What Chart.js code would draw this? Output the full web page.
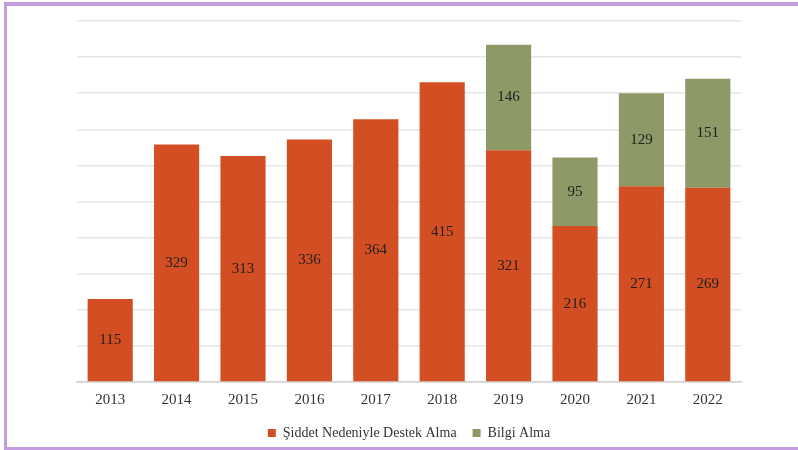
<!DOCTYPE html>
<html>
<head>
<meta charset="utf-8">
<script src="https://cdn.jsdelivr.net/npm/chart.js@4/dist/chart.umd.min.js"></script>
<style>
  html, body { margin: 0; padding: 0; background: #fff; }
  #wrap { position: absolute; left: 0; top: 0; width: 798px; height: 450px; }
  #frame { position: absolute; left: 4px; top: 2px; width: 794px; height: 448px;
           border-top: 4px solid #C39BDF; border-left: 3px solid #C39BDF; border-bottom: 3px solid #C39BDF;
           box-sizing: border-box; pointer-events: none; }
  canvas { position: absolute; left: 0; top: 0; }
</style>
</head>
<body>
<div id="wrap">
  <canvas id="c" width="798" height="450"></canvas>
  <div id="frame"></div>
</div>
<script>
const categories = ['2013','2014','2015','2016','2017','2018','2019','2020','2021','2022'];
const seriesNames = ['Şiddet Nedeniyle Destek Alma', 'Bilgi Alma'];
const supportValues = [115, 329, 313, 336, 364, 415, 321, 216, 271, 269];
const infoValues = [null, null, null, null, null, null, 146, 95, 129, 151];

const labelPlugin = {
  id: 'segLabels',
  afterDatasetsDraw(chart) {
    const ctx = chart.ctx;
    ctx.save();
    ctx.font = '15px "Liberation Serif", serif';
    ctx.fillStyle = '#1F1F1F';
    ctx.textAlign = 'center';
    ctx.textBaseline = 'middle';
    chart.data.datasets.forEach((ds, i) => {
      const meta = chart.getDatasetMeta(i);
      meta.data.forEach((el, j) => {
        const v = ds.data[j];
        if (v == null) return;
        ctx.fillText(String(v), el.x, (el.y + el.base) / 2);
      });
    });
    ctx.restore();
  }
};

new Chart(document.getElementById('c'), {
  type: 'bar',
  data: {
    labels: categories,
    datasets: [
      { label: seriesNames[0], data: supportValues, backgroundColor: '#D34F23', categoryPercentage: 0.68, barPercentage: 1 },
      { label: seriesNames[1], data: infoValues, backgroundColor: '#8D9966', categoryPercentage: 0.68, barPercentage: 1 }
    ]
  },
  options: {
    responsive: false,
    animation: false,
    layout: { padding: { left: 77, right: 57, top: 21, bottom: 0 } },
    scales: {
      x: {
        stacked: true,
        grid: { display: false },
        border: { color: '#D0D0D0', width: 1.5 },
        ticks: { color: '#333', font: { family: '"Liberation Serif", serif', size: 15 }, padding: 1 }
      },
      y: {
        stacked: true,
        min: 0, max: 500,
        ticks: { display: false, stepSize: 50 },
        grid: { color: '#E6E6E6', lineWidth: 1.5, drawTicks: false },
        border: { display: false }
      }
    },
    plugins: {
      legend: {
        position: 'bottom',
        labels: { boxWidth: 8, boxHeight: 8, color: '#333', padding: 16,
                  font: { family: '"Liberation Serif", serif', size: 14 } }
      },
      tooltip: { enabled: false }
    }
  },
  plugins: [labelPlugin]
});
</script>
</body>
</html>
